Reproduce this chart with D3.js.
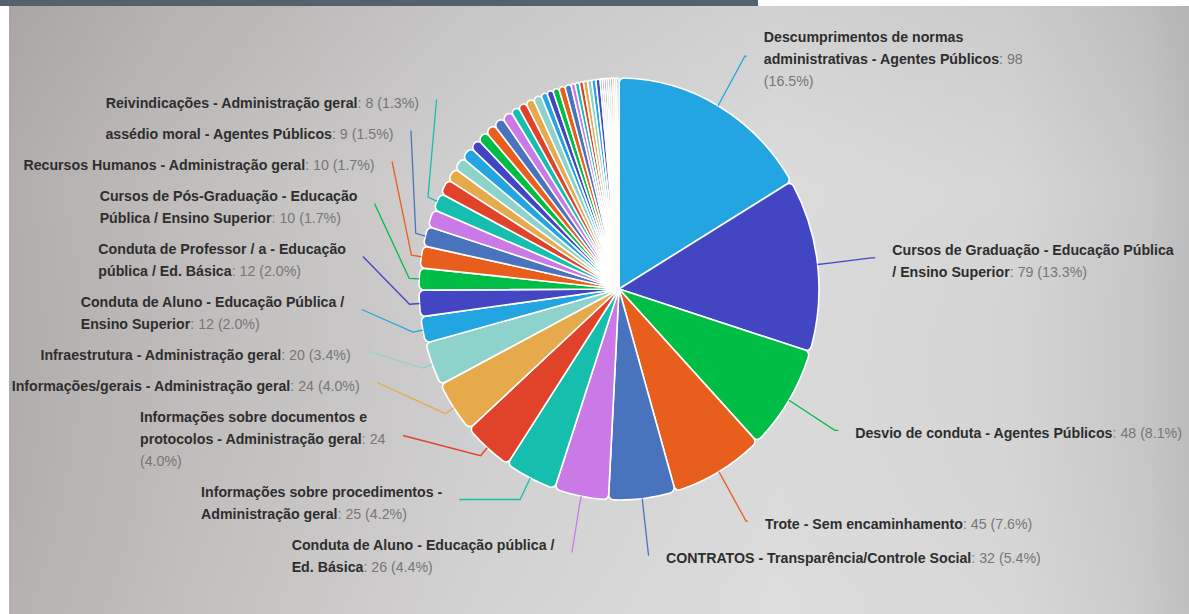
<!DOCTYPE html>
<html>
<head>
<meta charset="utf-8">
<script src="https://cdn.jsdelivr.net/npm/d3@7"></script>
<style>
  html, body { margin: 0; padding: 0; background: #ffffff; }
  svg { display: block; }
  text { white-space: pre; }
</style>
</head>
<body>
<svg id="chart" width="1189" height="614"></svg>
<script>
// Slice names in drawing order, clockwise from 12 o'clock.
// The many thin slices carry no printed label, so their names are left empty.
const categories = [
  "Descumprimentos de normas administrativas - Agentes Públicos",
  "Cursos de Graduação - Educação Pública / Ensino Superior",
  "Desvio de conduta - Agentes Públicos",
  "Trote - Sem encaminhamento",
  "CONTRATOS - Transparência/Controle Social",
  "Conduta de Aluno - Educação pública / Ed. Básica",
  "Informações sobre procedimentos - Administração geral",
  "Informações sobre documentos e protocolos - Administração geral",
  "Informações/gerais - Administração geral",
  "Infraestrutura - Administração geral",
  "Conduta de Aluno - Educação Pública / Ensino Superior",
  "Conduta de Professor / a - Educação pública / Ed. Básica",
  "Cursos de Pós-Graduação - Educação Pública / Ensino Superior",
  "Recursos Humanos - Administração geral",
  "assédio moral - Agentes Públicos",
  null,
  "Reivindicações - Administração geral",
  null, null, null, null, null, null, null, null, null, null,
  null, null, null, null, null, null, null, null, null, null,
  null, null, null, null, null, null, null, null, null, null,
  null, null, null, null
];

// Number of records per category (same order as above).
const values = [
  98, 79, 48, 45, 32, 26, 25, 24, 24, 20, 12, 12, 10, 10, 9, 8, 8,
  7, 6, 6, 6, 5, 5, 5, 5, 5, 4, 4, 4, 4, 3, 3, 3, 3, 3,
  2, 2, 2, 2, 2, 2, 2, 1, 1, 1, 1, 1, 1, 1, 1, 1
];

// Slice colours, cycled around the pie.
const palette = [
  "#22a5e1", "#4346c3", "#00bd46", "#e85e1c", "#4a73bd",
  "#c97ae6", "#15bead", "#e0432a", "#e6a94c", "#8dd3cc"
];

const W = 1189, H = 614;
const svg = d3.select("#chart");

// ---- backdrop -------------------------------------------------------------
const defs = svg.append("defs");
const bg = defs.append("linearGradient").attr("id", "bg")
  .attr("x1", 0).attr("x2", 1).attr("y1", 0).attr("y2", 0);
[[0, "#b2aead"], [0.15, "#c0bdbc"], [0.4, "#d2d1d1"], [0.65, "#dcdcdc"],
 [0.85, "#d6d6d6"], [0.96, "#c8c8c8"], [1, "#bdbdbd"]]
  .forEach(([o, c]) => bg.append("stop").attr("offset", o).attr("stop-color", c));
const shade = defs.append("linearGradient").attr("id", "shade")
  .attr("x1", 0).attr("x2", 0).attr("y1", 0).attr("y2", 1);
[[0, "rgba(0,0,0,0.05)"], [0.3, "rgba(0,0,0,0)"], [1, "rgba(255,255,255,0.04)"]]
  .forEach(([o, c]) => shade.append("stop").attr("offset", o).attr("stop-color", c));

svg.append("rect").attr("x", 9).attr("y", 6).attr("width", W - 9).attr("height", H - 6)
  .attr("fill", "url(#bg)");
svg.append("rect").attr("x", 9).attr("y", 6).attr("width", W - 9).attr("height", H - 6)
  .attr("fill", "url(#shade)");
svg.append("rect").attr("x", 0).attr("y", 0).attr("width", 758).attr("height", 6)
  .attr("fill", "#55626d");

// ---- pie geometry -----------------------------------------------------------
const cx = 619, cy = 289, r = 200, squash = 1.055;    // vertical radius = r * squash
const labelRx = 258, labelRy = 268;                   // ring the label anchors sit on
const labelTop = 4, labelBottom = 579;
const lineH = 22, boxPad = 9, gap = 17;
const fontSize = 14.2, fontFamily = "'Liberation Sans', Arial, Helvetica, sans-serif";
const oneLineMax = { left: 370, right: 400 };
const wrapWidth = { left: 275, right: 286 };

const data = values.map((v, i) => ({ name: categories[i], value: v, index: i }));
const total = d3.sum(values);
const color = d3.scaleOrdinal().domain(d3.range(values.length)).range(palette);
const pct = d3.format(".1f");

const pie = d3.pie().sort(null).value(d => d.value).startAngle(0).endAngle(2 * Math.PI);
const arcs = pie(data);
const arc = d3.arc().innerRadius(0).outerRadius(r).cornerRadius(5);

const pieG = svg.append("g")
  .attr("transform", `translate(${cx},${cy}) scale(1,${squash})`);
pieG.selectAll("path")
  .data(arcs)
  .join("path")
  .attr("d", arc)
  .attr("fill", d => color(d.data.index))
  .attr("stroke", "#ffffff")
  .attr("stroke-width", 1.6)
  .attr("stroke-linejoin", "round")
  .attr("vector-effect", "non-scaling-stroke");

const onPie = (a, rad) => [cx + rad * Math.sin(a), cy - rad * squash * Math.cos(a)];

// ---- label text measurement & wrapping ------------------------------------
const ctx = document.createElement("canvas").getContext("2d");
function segWidth(s) {
  ctx.font = `${s.bold ? "bold " : ""}${fontSize}px ${fontFamily}`;
  return ctx.measureText(s.text).width;
}
const spaceW = (() => { ctx.font = `${fontSize}px ${fontFamily}`; return ctx.measureText(" ").width; })();

function tokens(d) {
  const words = d.name.split(" ").map(w => [{ text: w, bold: true }]);
  words[words.length - 1].push({ text: ":", bold: false });
  words.push([{ text: String(d.value), bold: false }]);
  words.push([{ text: `(${pct(d.value / total * 100)}%)`, bold: false }]);
  return words.map(segs => ({ segs, w: d3.sum(segs, segWidth) }));
}
function wrap(words, maxW) {
  const lines = [];
  let cur = [], curW = 0;
  words.forEach(w => {
    const add = cur.length ? spaceW + w.w : w.w;
    if (cur.length && curW + add > maxW) {
      lines.push({ words: cur, w: curW });
      cur = [w]; curW = w.w;
    } else { cur.push(w); curW += add; }
  });
  if (cur.length) lines.push({ words: cur, w: curW });
  return lines;
}

// ---- label placement --------------------------------------------------------
const labels = arcs.filter(a => a.data.name).map(a => {
  const mid = (a.startAngle + a.endAngle) / 2;
  const side = mid < Math.PI ? "right" : "left";
  const words = tokens(a.data);
  const full = d3.sum(words, w => w.w) + spaceW * (words.length - 1);
  const lines = full <= oneLineMax[side] ? wrap(words, Infinity) : wrap(words, wrapWidth[side]);
  return {
    arc: a, mid, side, lines,
    width: d3.max(lines, l => l.w),
    size: lines.length * lineH + boxPad,
    target: cy - labelRy * Math.cos(mid)
  };
});

// Push overlapping label boxes apart, keeping each group centred on its targets.
function distribute(boxes, top, bottom) {
  const sorted = boxes.slice().sort((a, b) => a.target - b.target);
  let groups = sorted.map(b => ({ items: [b], size: b.size, tmin: b.target, tmax: b.target }));
  let overlapping = true;
  while (overlapping) {
    groups.forEach(g => {
      g.pos = Math.max(top, Math.min(bottom - g.size, (g.tmin + g.tmax) / 2 - g.size / 2));
    });
    overlapping = false;
    for (let i = groups.length - 1; i > 0; i--) {
      const a = groups[i - 1], b = groups[i];
      if (a.pos + a.size > b.pos) {
        a.items = a.items.concat(b.items);
        a.size += b.size;
        a.tmin = Math.min(a.tmin, b.tmin);
        a.tmax = Math.max(a.tmax, b.tmax);
        groups.splice(i, 1);
        overlapping = true;
      }
    }
  }
  groups.forEach(g => {
    let p = g.pos;
    g.items.forEach(b => { b.y = p + b.size / 2; p += b.size; });
  });
}
distribute(labels.filter(l => l.side === "right"), labelTop, labelBottom);
distribute(labels.filter(l => l.side === "left"), labelTop, labelBottom);

labels.forEach(l => {
  const dy = (l.y - cy) / labelRy;
  const dx = labelRx * Math.sqrt(Math.max(0, 1 - dy * dy));
  l.x = l.side === "right" ? cx + dx : cx - dx;
});

// ---- connectors -------------------------------------------------------------
const connG = svg.append("g");
labels.forEach(l => {
  const touch = onPie(l.mid, r);
  const brk = onPie(l.mid, r + 10);
  const crookX = cx + (cy - l.y) * Math.tan(l.mid) / squash;
  const pts = [[l.x, l.y]];
  const ok = l.side === "right"
    ? (crookX <= l.x && crookX >= brk[0])
    : (crookX >= l.x && crookX <= brk[0]);
  if (ok) pts.push([crookX, l.y]);
  pts.push(brk, touch);
  connG.append("path")
    .attr("d", d3.line()(pts))
    .attr("fill", "none")
    .attr("stroke", color(l.arc.data.index))
    .attr("stroke-width", 1.3);
});

// ---- label text -------------------------------------------------------------
const textG = svg.append("g")
  .attr("font-family", fontFamily)
  .attr("font-size", fontSize);
labels.forEach(l => {
  const left = l.side === "right" ? l.x + gap : l.x - gap - l.width;
  const n = l.lines.length;
  l.lines.forEach((line, i) => {
    const base = l.y + 3 + (i - (n - 1) / 2) * lineH + 5;
    const t = textG.append("text").attr("x", left).attr("y", base);
    line.words.forEach((w, j) => {
      w.segs.forEach((s, k) => {
        t.append("tspan")
          .attr("font-weight", s.bold ? "bold" : "normal")
          .attr("fill", s.bold ? "#2e2e2e" : "#767676")
          .text((j > 0 && k === 0 ? " " : "") + s.text);
      });
    });
  });
});
</script>
</body>
</html>
